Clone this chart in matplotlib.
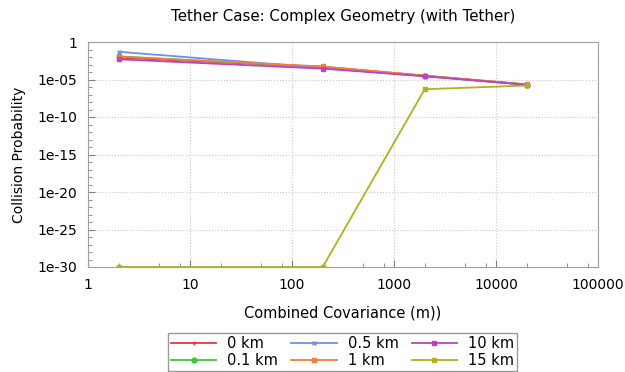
import numpy as np
import matplotlib
matplotlib.use("Agg")
import matplotlib.pyplot as plt
from matplotlib.ticker import FixedLocator, LogLocator, NullFormatter

covariance = [2, 200, 2000, 20000]
labels = ["0 km", "0.1 km", "0.5 km", "1 km", "10 km", "15 km"]
p_0km = [8e-3, 5e-4, 3.2e-5, 2.2e-6]
p_01km = [1.2e-2, 4.5e-4, 3.0e-5, 2.0e-6]
p_05km = [5e-2, 3.5e-4, 2.8e-5, 2.0e-6]
p_1km = [1.1e-2, 5.5e-4, 3.3e-5, 2.2e-6]
p_10km = [5e-3, 2.8e-4, 2.7e-5, 2.0e-6]
p_15km = [1e-30, 1e-30, 5e-7, 1.6e-6]
series = [p_0km, p_01km, p_05km, p_1km, p_10km, p_15km]
colors = ["#e03a3a", "#3cc43c", "#6f8fe8", "#f0803a", "#c040c0", "#b0b020"]
markers = ["+", "o", "x", "s", "s", "s"]

plt.rcParams['font.family'] = 'DejaVu Sans'
fig = plt.figure(figsize=(6.25, 3.72), dpi=100)
ax = fig.add_axes([88 / 625, 1 - 267 / 372, 510 / 625, 225 / 372])

for vals, lab, c, m in zip(series, labels, colors, markers):
    ax.plot(covariance, vals, color=c, marker=m, markersize=3.5, lw=1.3,
            markeredgewidth=1, label=lab)

ax.set_xscale('log')
ax.set_yscale('log')
ax.set_xlim(1, 100000)
ax.set_ylim(1e-30, 1)
ax.xaxis.set_major_locator(FixedLocator([1, 10, 100, 1000, 10000, 100000]))
ax.set_xticklabels(["1", "10", "100", "1000", "10000", "100000"])
ax.xaxis.set_minor_locator(LogLocator(base=10, subs=[2, 5, 8], numticks=20))
ax.xaxis.set_minor_formatter(NullFormatter())
yt = [10.0 ** -k for k in range(0, 31, 5)]
ax.yaxis.set_major_locator(FixedLocator(yt))
ax.set_yticklabels(["1"] + ["1e-%02d" % k for k in range(5, 31, 5)])
ax.yaxis.set_minor_locator(FixedLocator([10.0 ** -k for k in range(31) if k % 5]))
ax.yaxis.set_minor_formatter(NullFormatter())

ax.tick_params(which='both', direction='in', colors='#808080', labelcolor='black',
               labelsize=10, top=False, right=False)
ax.tick_params(which='major', length=5, pad=8)
ax.tick_params(which='minor', length=3)
ax.grid(True, which='major', color='#c8c8c8', linestyle=':', linewidth=0.8)
for s in ax.spines.values():
    s.set_color('#a0a0a0')

ax.set_title("Tether Case: Complex Geometry (with Tether)", fontsize=10.8, pad=15)
ax.set_xlabel("Combined Covariance (m))", fontsize=10.5, labelpad=10)
ax.set_ylabel("Collision Probability", fontsize=10, labelpad=8)

leg = ax.legend(ncol=3, loc='upper center', bbox_to_anchor=(0.499, -0.295),
                fontsize=10.5, frameon=True, fancybox=False, handlelength=3.1,
                columnspacing=0.9, borderpad=0.2, labelspacing=0.12, handletextpad=0.75,
                borderaxespad=0)
leg.get_frame().set_edgecolor('#808080')
leg.get_frame().set_linewidth(1)

fig.savefig("out.png", dpi=100)
